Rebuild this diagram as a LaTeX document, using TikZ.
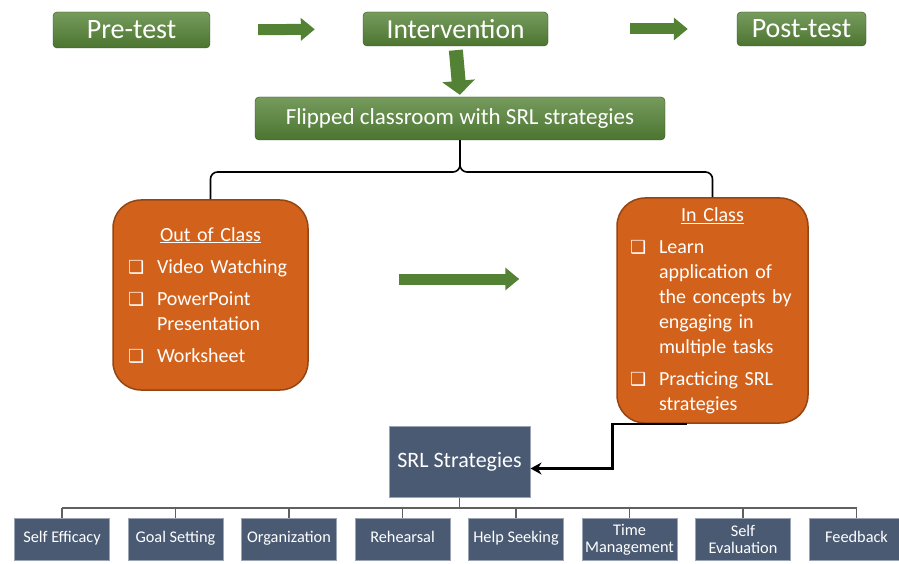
\documentclass[tikz,border=0pt]{standalone}
\usepackage{fontspec}
\setmainfont{Carlito}
\newfontfamily\dingfont{DejaVu Sans}
\usepackage{tikz}
\usetikzlibrary{positioning, arrows.meta, calc}

\definecolor{grn}{HTML}{548235}
\definecolor{orng}{HTML}{D2621B}
\definecolor{navy}{HTML}{4A5A73}

% one checkbox entry, wrapped lines hang under the text
\newcommand{\bullitem}[1]{\par\hangindent=29pt\hangafter=1\noindent
  \makebox[29pt][l]{\fontsize{18}{18}\dingfont\char"2751}#1\par}

\begin{document}
\begin{tikzpicture}[x=1pt,y=-1pt,
    phase/.style={rounded corners=4pt, top color=grn!80!white, bottom color=grn!90!black,
      draw=grn!60!black, text=white, inner sep=0pt, font=\fontsize{28}{30}\selectfont},
    part/.style={rounded corners=28pt, fill=orng, draw=orng!70!black, line width=1.5pt,
      text=white, align=left, inner ysep=6pt, font=\fontsize{20}{25}\selectfont},
    leaf/.style={fill=navy, draw=navy!55!white, line width=1pt, text=white, align=center,
      inner sep=0pt, minimum width=95pt, minimum height=42pt, font=\fontsize{16.3}{17}\selectfont},
    fat/.style={line width=11pt, grn, -{Triangle[length=14pt,width=22pt]}},
    brace/.style={line width=1.6pt, rounded corners=7pt},
    link/.style={line width=2.5pt, -{Stealth[length=11pt,width=12pt]}},
    tree/.style={line width=1.2pt, gray!75!black}]
    \useasboundingbox (0,0) rectangle (899,564);

    % top row
    \node[phase, minimum width=157pt, minimum height=36pt] (pre) at (131.5,30) {Pre-test};
    \node[phase, minimum width=185pt, minimum height=34pt, font=\fontsize{27.5}{30}\selectfont]
      (inter) at (455.5,29) {Intervention};
    \node[phase, minimum width=129pt, minimum height=34pt] (post) at (801.5,29) {Post-test};
    \node[phase, minimum width=410pt, minimum height=43pt, font=\fontsize{23}{26}\selectfont]
      (flip) at (460,118.5) {Flipped classroom with SRL strategies};

    \draw[fat, shorten <=48pt, shorten >=48pt] (pre.east) -- (inter.west);
    \draw[fat, shorten <=82pt, shorten >=49pt] (inter.east) -- (post.west);
    \draw[fat, line width=14pt, -{Triangle[length=14pt,width=32pt]}, shorten <=4pt, shorten >=2pt]
      (inter.south) -- (flip.north);

    % the two parts
    \node[part, text width=165pt, inner xsep=15pt, minimum height=190pt] (outc) at (210.5,295) {%
      \setlength{\parskip}{7pt}{\centering\underline{Out of Class}\par}
      \bullitem{Video Watching}
      \bullitem{PowerPoint\break Presentation}
      \bullitem{Worksheet}};
    \node[part, text width=165pt, inner xsep=13pt, minimum height=225pt] (inc) at (712.5,310.5) {%
      \setlength{\parskip}{7pt}{\centering\underline{In Class}\par}
      \bullitem{Learn\break application of\break the concepts by\break engaging in\break multiple tasks}
      \bullitem{Practicing SRL\break strategies}};

    \coordinate (knot) at (460,172);
    \draw[brace] (outc.north) |- (knot) -- (flip.south);
    \draw[brace] (inc.north) |- (knot) -- (flip.south);

    \coordinate (mid) at (460,279);
    \draw[fat, shorten <=90pt, shorten >=97pt] (outc.east |- mid) -- (inc.west |- mid);

    % strategies
    \node[leaf, minimum width=141pt, minimum height=71pt, font=\fontsize{22}{24}\selectfont]
      (srl) at (459.5,461.5) {SRL Strategies};
    \draw[link] ([xshift=-26pt]inc.south) -- ([xshift=-100pt]inc.south) |- ([yshift=-7pt]srl.east);

    \foreach \lbl [count=\i] in {Self Efficacy, Goal Setting, Organization, Rehearsal,
        Help Seeking, {Time\\Management}, {Self\\Evaluation}, Feedback}
      \node[leaf] (s\i) at ({62+113.5*(\i-1)},539) {\strut\lbl};

    \coordinate (rail) at (0,508);
    \draw[tree] (srl.south) -- (srl.south |- rail);
    \draw[tree] (s1.north |- rail) -- (s8.north |- rail);
    \foreach \i in {1,...,8}
      \draw[tree] (s\i.north) -- (s\i.north |- rail);
\end{tikzpicture}
\end{document}
